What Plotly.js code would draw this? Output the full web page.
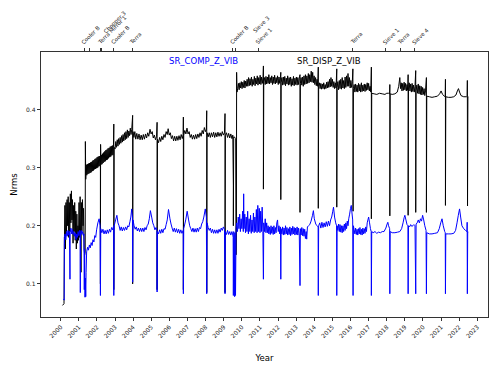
<!DOCTYPE html>
<html>
<head>
<meta charset="utf-8">
<script src="https://cdn.plot.ly/plotly-3.0.1.min.js"></script>
<style>html,body{margin:0;padding:0;background:#fff;}#chart{width:500px;height:375px;}</style>
</head>
<body>
<div id="chart"></div>
<script>
// Year tick labels
const yearTicks = [2000,2001,2002,2003,2004,2005,2006,2007,2008,2009,2010,2011,2012,2013,2014,2015,2016,2017,2018,2019,2020,2021,2022,2023];
const yTicks = [0.1, 0.2, 0.3, 0.4];

// Events shown on the top axis
const eventYears  = [2001.29, 2001.57, 2002.17, 2002.24, 2002.93, 2003.94, 2009.49, 2009.66, 2010.91, 2016.12, 2017.95, 2018.74, 2019.55];
const eventLabels = ["Cooler B", "Chopper 3", "Terra Mirror 1", "", "Cooler B", "Terra", "Cooler B", "Sieve 3", "Sieve 1", "Terra", "Sieve 1", "Terra", "Sieve 4"];

// SR_DISP_Z_VIB  [year, Nrms]
const dispPoints = [
[2000.10,0.063],[2000.18,0.066],[2000.20,0.17],[2000.23,0.235],[2000.26,0.16],[2000.29,0.24],[2000.32,0.19],[2000.35,0.245],[2000.38,0.2],[2000.41,0.25],[2000.44,0.18],[2000.47,0.24],[2000.50,0.19],[2000.53,0.255],[2000.56,0.205],[2000.59,0.26],[2000.62,0.21],[2000.65,0.245],[2000.68,0.17],[2000.71,0.235],[2000.74,0.19],[2000.77,0.24],[2000.80,0.175],[2000.83,0.225],[2000.86,0.16],[2000.89,0.22],[2000.92,0.17],[2000.95,0.2],[2000.98,0.175],[2001.01,0.24],[2001.04,0.18],[2001.07,0.25],[2001.10,0.17],[2001.12,0.12],[2001.14,0.24],[2001.17,0.19],[2001.20,0.245],[2001.23,0.2],[2001.26,0.23],[2001.29,0.16],[2001.32,0.15],[2001.35,0.155],
[2001.36,0.345],[2001.38,0.28],[2001.41,0.305],[2001.44,0.287],[2001.47,0.306],[2001.50,0.289],[2001.53,0.307],[2001.56,0.29],[2001.59,0.308],[2001.62,0.291],[2001.65,0.309],[2001.68,0.292],[2001.71,0.31],[2001.74,0.294],[2001.77,0.312],[2001.80,0.295],[2001.83,0.313],[2001.86,0.297],[2001.89,0.315],[2001.92,0.298],[2001.95,0.316],[2001.98,0.299],[2002.01,0.318],[2002.04,0.3],[2002.07,0.319],[2002.10,0.302],[2002.13,0.32],[2002.16,0.303],[2002.19,0.312],[2002.19,0.1],[2002.20,0.34],[2002.22,0.305],[2002.25,0.322],[2002.28,0.306],[2002.31,0.324],[2002.34,0.308],[2002.37,0.326],[2002.40,0.31],[2002.43,0.328],[2002.46,0.311],[2002.49,0.33],[2002.52,0.313],[2002.55,0.331],[2002.58,0.314],[2002.61,0.333],[2002.64,0.316],[2002.67,0.334],[2002.70,0.318],[2002.73,0.336],[2002.76,0.319],[2002.79,0.337],[2002.82,0.321],[2002.85,0.338],[2002.88,0.322],[2002.91,0.335],[2002.93,0.375],[2002.93,0.09],[2002.95,0.335],
[2003.00,0.332],[2003.04,0.345],[2003.08,0.335],[2003.12,0.348],[2003.16,0.337],[2003.20,0.35],[2003.24,0.34],[2003.28,0.352],[2003.32,0.342],[2003.36,0.355],[2003.40,0.344],[2003.44,0.357],[2003.48,0.346],[2003.52,0.36],[2003.56,0.348],[2003.60,0.362],[2003.64,0.35],[2003.68,0.365],[2003.72,0.352],[2003.76,0.363],[2003.80,0.355],[2003.84,0.368],[2003.88,0.357],[2003.92,0.366],[2003.97,0.39],[2003.97,0.1],[2003.99,0.362],
[2004.04,0.352],[2004.09,0.362],[2004.14,0.349],[2004.2,0.359],[2004.26,0.349],[2004.32,0.358],[2004.38,0.348],[2004.44,0.356],[2004.5,0.348],[2004.56,0.357],[2004.62,0.349],[2004.68,0.358],[2004.74,0.351],[2004.8,0.36],[2004.86,0.354],[2004.93,0.366],[2004.99,0.358],[2005.05,0.362],[2005.11,0.351],[2005.17,0.356],[2005.23,0.348],[2005.29,0.354],[2005.32,0.378],[2005.32,0.09],[2005.34,0.349],[2005.4,0.343],[2005.46,0.352],[2005.52,0.345],[2005.58,0.354],[2005.64,0.348],[2005.7,0.357],[2005.76,0.352],[2005.82,0.362],[2005.88,0.357],[2005.93,0.367],[2005.99,0.356],[2006.05,0.36],[2006.11,0.35],[2006.17,0.355],[2006.23,0.346],[2006.29,0.354],[2006.35,0.346],[2006.41,0.354],[2006.47,0.347],[2006.53,0.355],[2006.59,0.348],[2006.65,0.357],[2006.71,0.35],[2006.76,0.357],[2006.77,0.387],[2006.77,0.09],[2006.79,0.356],[2006.85,0.364],[2006.91,0.358],[2006.97,0.368],[2007.03,0.358],[2007.09,0.362],[2007.15,0.352],[2007.21,0.357],[2007.27,0.349],[2007.33,0.356],[2007.39,0.349],[2007.45,0.357],[2007.51,0.35],[2007.57,0.358],[2007.63,0.352],[2007.69,0.36],[2007.75,0.354],[2007.81,0.364],[2007.87,0.358],[2007.93,0.369],[2007.99,0.362],[2008.04,0.366],[2008.06,0.398],[2008.06,0.085],[2008.08,0.36],[2008.14,0.353],[2008.2,0.36],[2008.26,0.352],[2008.32,0.36],[2008.38,0.353],[2008.44,0.361],[2008.5,0.352],[2008.56,0.36],[2008.62,0.353],[2008.68,0.361],[2008.74,0.354],[2008.8,0.36],[2008.86,0.354],[2008.92,0.362],[2008.98,0.356],[2009.04,0.36],[2009.07,0.393],[2009.07,0.085],[2009.09,0.355],[2009.15,0.36],[2009.21,0.352],[2009.27,0.359],[2009.33,0.351],[2009.39,0.358],[2009.45,0.35],[2009.5,0.356],[2009.53,0.27],[2009.53,0.2],[2009.55,0.353],[2009.62,0.352],[2009.66,0.35],[2009.68,0.15],[2009.70,0.2],[2009.71,0.464],[2009.73,0.43],
[2009.77,0.436],[2009.81,0.445],[2009.85,0.434],[2009.89,0.446],[2009.93,0.437],[2009.97,0.448],[2010.01,0.436],[2010.05,0.447],[2010.09,0.438],[2010.13,0.45],[2010.17,0.437],[2010.21,0.449],[2010.25,0.44],[2010.29,0.452],
[2010.33,0.44],[2010.37,0.455],[2010.41,0.441],[2010.45,0.453],[2010.49,0.442],[2010.53,0.456],[2010.57,0.44],[2010.61,0.452],[2010.65,0.443],[2010.69,0.457],[2010.73,0.441],[2010.77,0.454],[2010.81,0.444],[2010.85,0.458],[2010.89,0.442],[2010.93,0.455],[2010.97,0.444],[2011.01,0.459],[2011.05,0.443],[2011.09,0.456],[2011.13,0.445],[2011.17,0.455],[2011.19,0.475],[2011.19,0.263],[2011.21,0.448],
[2011.25,0.455],[2011.29,0.443],[2011.33,0.457],[2011.37,0.444],[2011.41,0.456],[2011.45,0.445],[2011.49,0.46],[2011.53,0.444],[2011.57,0.455],[2011.61,0.446],[2011.65,0.458],[2011.69,0.443],[2011.73,0.456],[2011.77,0.445],[2011.81,0.459],[2011.85,0.444],[2011.89,0.455],[2011.93,0.446],[2011.97,0.458],[2012.01,0.443],[2012.05,0.456],[2012.09,0.445],[2012.13,0.455],[2012.15,0.464],[2012.15,0.245],[2012.17,0.446],
[2012.21,0.455],[2012.25,0.442],[2012.29,0.456],[2012.33,0.443],[2012.37,0.457],[2012.41,0.441],[2012.45,0.454],[2012.49,0.444],[2012.53,0.458],[2012.57,0.442],[2012.61,0.455],[2012.65,0.443],[2012.69,0.456],[2012.73,0.44],[2012.77,0.453],[2012.81,0.442],[2012.85,0.457],[2012.89,0.441],[2012.93,0.454],[2012.97,0.443],[2013.01,0.456],[2013.05,0.442],[2013.09,0.455],[2013.13,0.443],[2013.17,0.454],[2013.21,0.46],[2013.21,0.223],[2013.23,0.445],
[2013.27,0.455],[2013.31,0.442],[2013.35,0.456],[2013.39,0.44],[2013.43,0.458],[2013.47,0.443],[2013.51,0.46],[2013.55,0.444],[2013.59,0.458],[2013.63,0.445],[2013.67,0.462],[2013.71,0.446],[2013.75,0.46],[2013.79,0.448],[2013.83,0.466],[2013.87,0.447],[2013.91,0.464],[2013.95,0.446],[2013.99,0.458],[2014.03,0.443],[2014.07,0.455],[2014.11,0.441],[2014.15,0.452],[2014.19,0.44],[2014.22,0.473],[2014.22,0.23],[2014.24,0.44],
[2014.28,0.446],[2014.32,0.436],[2014.36,0.445],[2014.40,0.435],[2014.44,0.444],[2014.48,0.436],[2014.52,0.446],[2014.56,0.435],[2014.60,0.443],[2014.64,0.436],[2014.68,0.447],[2014.72,0.437],[2014.76,0.448],[2014.80,0.438],[2014.84,0.452],[2014.88,0.439],[2014.92,0.455],[2014.96,0.44],[2015.00,0.452],[2015.04,0.438],[2015.08,0.448],[2015.12,0.436],[2015.16,0.446],[2015.20,0.437],[2015.24,0.47],[2015.24,0.232],[2015.26,0.438],
[2015.30,0.448],[2015.34,0.434],[2015.38,0.45],[2015.42,0.436],[2015.46,0.452],[2015.50,0.435],[2015.54,0.455],[2015.58,0.437],[2015.62,0.45],[2015.66,0.436],[2015.70,0.456],[2015.74,0.438],[2015.78,0.458],[2015.82,0.44],[2015.86,0.462],[2015.90,0.44],[2015.94,0.455],[2015.98,0.437],[2016.02,0.45],[2016.06,0.438],[2016.10,0.448],[2016.13,0.47],[2016.14,0.225],[2016.16,0.436],
[2016.20,0.443],[2016.24,0.43],[2016.28,0.444],[2016.32,0.431],[2016.36,0.442],[2016.40,0.43],[2016.44,0.445],[2016.48,0.432],[2016.52,0.443],[2016.56,0.43],[2016.60,0.446],[2016.64,0.431],[2016.68,0.442],[2016.72,0.432],[2016.76,0.444],[2016.80,0.431],[2016.84,0.443],[2016.88,0.433],[2016.92,0.446],[2016.96,0.434],[2017.00,0.445],[2017.04,0.432],[2017.08,0.44],[2017.12,0.43],[2017.15,0.473],[2017.15,0.212],[2017.17,0.428],
[2017.3,0.427],[2017.45,0.426],[2017.6,0.428],[2017.75,0.427],[2017.9,0.426],[2018.0,0.428],[2018.1,0.428],[2018.16,0.427],[2018.17,0.443],[2018.17,0.217],[2018.19,0.427],
[2018.3,0.426],[2018.45,0.427],[2018.58,0.43],[2018.66,0.44],[2018.72,0.455],[2018.76,0.436],[2018.80,0.446],[2018.84,0.432],[2018.88,0.445],[2018.92,0.433],[2018.96,0.447],[2019.00,0.434],[2019.04,0.445],[2019.08,0.432],[2019.12,0.443],[2019.16,0.433],[2019.18,0.46],[2019.18,0.218],[2019.20,0.434],
[2019.24,0.446],[2019.28,0.432],[2019.32,0.444],[2019.36,0.43],[2019.40,0.445],[2019.44,0.431],[2019.48,0.442],[2019.52,0.43],[2019.56,0.44],[2019.60,0.467],[2019.60,0.223],[2019.62,0.432],
[2019.66,0.442],[2019.70,0.428],[2019.74,0.444],[2019.78,0.427],[2019.82,0.441],[2019.86,0.426],[2019.90,0.44],[2019.94,0.425],[2019.98,0.438],[2020.02,0.426],[2020.06,0.436],[2020.10,0.424],[2020.14,0.432],[2020.19,0.455],[2020.19,0.223],[2020.21,0.423],
[2020.35,0.422],[2020.5,0.421],[2020.65,0.422],[2020.8,0.423],[2020.92,0.427],[2021.0,0.432],[2021.08,0.426],[2021.18,0.423],[2021.23,0.422],[2021.24,0.452],[2021.24,0.235],[2021.26,0.422],
[2021.4,0.421],[2021.55,0.421],[2021.7,0.422],[2021.82,0.425],[2021.9,0.432],[2021.96,0.436],[2022.02,0.43],[2022.1,0.424],[2022.25,0.422],[2022.4,0.422],[2022.44,0.423],[2022.45,0.45],[2022.46,0.234],[2022.48,0.422],[2022.50,0.422]
];

// SR_COMP_Z_VIB  [year, Nrms]
const compPoints = [
[2000.15,0.074],[2000.19,0.072],[2000.20,0.18],[2000.24,0.186],[2000.28,0.176],[2000.32,0.19],[2000.36,0.182],[2000.40,0.192],[2000.44,0.184],[2000.48,0.19],[2000.51,0.108],[2000.52,0.188],[2000.56,0.196],[2000.60,0.186],[2000.64,0.194],[2000.68,0.185],[2000.72,0.19],[2000.76,0.182],[2000.80,0.188],[2000.84,0.176],[2000.88,0.186],[2000.92,0.18],[2000.96,0.19],[2001.00,0.183],[2001.04,0.192],[2001.07,0.186],[2001.08,0.085],[2001.09,0.188],[2001.13,0.192],[2001.17,0.185],[2001.21,0.19],[2001.25,0.183],[2001.28,0.186],[2001.30,0.09],[2001.32,0.16],[2001.34,0.077],[2001.36,0.11],[2001.38,0.078],[2001.40,0.12],
[2001.43,0.155],[2001.48,0.163],[2001.53,0.158],[2001.58,0.167],[2001.63,0.162],[2001.68,0.171],[2001.73,0.166],[2001.78,0.176],[2001.83,0.172],[2001.88,0.183],[2001.93,0.18],[2001.98,0.193],[2002.05,0.205],[2002.12,0.212],[2002.17,0.2],[2002.19,0.08],
[2002.21,0.195],[2002.27,0.188],[2002.33,0.194],[2002.39,0.186],[2002.45,0.192],[2002.51,0.186],[2002.57,0.193],[2002.63,0.187],[2002.69,0.194],[2002.75,0.189],[2002.81,0.197],[2002.87,0.193],[2002.92,0.2],[2002.93,0.08],[2002.95,0.2],[2003.03,0.21],[2003.1,0.218],[2003.16,0.205],[2003.22,0.2],[2003.28,0.192],[2003.34,0.198],[2003.4,0.191],[2003.46,0.197],[2003.52,0.192],[2003.58,0.198],[2003.64,0.193],[2003.7,0.2],[2003.76,0.198],[2003.82,0.207],[2003.87,0.215],[2003.92,0.229],[2003.96,0.215],[2003.97,0.103],[2003.99,0.21],
[2004.05,0.2],[2004.11,0.194],[2004.17,0.198],[2004.23,0.191],[2004.29,0.196],[2004.35,0.19],[2004.41,0.196],[2004.47,0.19],[2004.53,0.196],[2004.59,0.19],[2004.65,0.197],[2004.71,0.193],[2004.77,0.2],[2004.83,0.203],[2004.89,0.212],[2004.95,0.226],[2005.02,0.215],[2005.08,0.205],[2005.14,0.2],[2005.2,0.193],[2005.26,0.197],[2005.31,0.192],[2005.32,0.086],[2005.34,0.19],[2005.4,0.186],[2005.46,0.193],[2005.52,0.187],[2005.58,0.194],[2005.64,0.188],[2005.7,0.195],[2005.76,0.194],[2005.82,0.202],[2005.88,0.21],[2005.95,0.228],[2006.03,0.212],[2006.09,0.203],[2006.15,0.196],[2006.21,0.19],[2006.27,0.196],[2006.33,0.189],[2006.39,0.195],[2006.45,0.188],[2006.51,0.194],[2006.57,0.187],[2006.63,0.193],[2006.69,0.187],[2006.76,0.192],[2006.77,0.083],[2006.79,0.195],[2006.85,0.203],[2006.9,0.21],[2006.98,0.225],[2007.06,0.21],[2007.12,0.2],[2007.18,0.195],[2007.24,0.19],[2007.3,0.196],[2007.36,0.189],[2007.42,0.195],[2007.48,0.189],[2007.54,0.196],[2007.6,0.19],[2007.66,0.197],[2007.72,0.195],[2007.78,0.203],[2007.84,0.207],[2007.9,0.215],[2007.98,0.229],[2008.04,0.215],[2008.06,0.083],[2008.08,0.205],[2008.14,0.197],[2008.2,0.192],[2008.26,0.196],[2008.32,0.188],[2008.38,0.194],[2008.44,0.187],[2008.5,0.193],[2008.56,0.187],[2008.62,0.193],[2008.68,0.187],[2008.74,0.194],[2008.8,0.189],[2008.86,0.196],[2008.92,0.192],[2008.98,0.198],[2009.04,0.194],[2009.07,0.083],[2009.09,0.19],[2009.15,0.185],[2009.21,0.192],[2009.27,0.185],[2009.33,0.19],[2009.39,0.184],[2009.45,0.19],[2009.5,0.184],[2009.52,0.18],[2009.53,0.08],[2009.55,0.19],[2009.58,0.185],[2009.60,0.078],[2009.62,0.188],[2009.65,0.08],[2009.68,0.195],
[2009.72,0.205],[2009.76,0.19],[2009.80,0.215],[2009.84,0.195],[2009.88,0.22],[2009.92,0.19],[2009.96,0.212],[2010.00,0.195],[2010.04,0.225],[2010.08,0.19],[2010.10,0.255],[2010.12,0.195],[2010.16,0.22],[2010.20,0.188],[2010.24,0.215],[2010.28,0.19],[2010.32,0.225],[2010.36,0.186],[2010.40,0.212],[2010.44,0.19],[2010.48,0.218],[2010.52,0.187],[2010.56,0.21],[2010.60,0.19],[2010.64,0.222],[2010.68,0.188],[2010.72,0.215],[2010.76,0.19],[2010.80,0.228],[2010.84,0.188],[2010.88,0.235],[2010.92,0.19],[2010.96,0.23],[2011.00,0.188],[2011.04,0.225],[2011.08,0.19],[2011.12,0.232],[2011.16,0.19],[2011.19,0.108],[2011.21,0.205],[2011.25,0.19],[2011.29,0.212],[2011.33,0.188],[2011.37,0.205],
[2011.41,0.188],[2011.45,0.2],[2011.49,0.186],[2011.53,0.198],[2011.57,0.185],[2011.61,0.2],[2011.65,0.187],[2011.69,0.198],[2011.73,0.185],[2011.77,0.2],[2011.81,0.186],[2011.85,0.197],[2011.89,0.188],[2011.93,0.205],[2011.97,0.21],[2012.01,0.19],[2012.05,0.2],[2012.09,0.186],[2012.13,0.198],[2012.15,0.108],[2012.17,0.195],[2012.21,0.186],[2012.25,0.198],[2012.29,0.184],[2012.33,0.196],[2012.37,0.185],[2012.41,0.2],[2012.45,0.186],[2012.49,0.197],[2012.53,0.184],[2012.57,0.195],[2012.61,0.185],[2012.65,0.198],[2012.69,0.183],[2012.73,0.196],[2012.77,0.185],[2012.81,0.199],[2012.85,0.186],[2012.89,0.197],[2012.93,0.184],[2012.97,0.196],[2013.01,0.185],[2013.05,0.198],[2013.09,0.184],[2013.13,0.196],[2013.17,0.186],[2013.21,0.097],[2013.23,0.195],[2013.27,0.184],[2013.31,0.197],[2013.35,0.183],[2013.39,0.195],[2013.43,0.182],[2013.47,0.194],[2013.51,0.178],[2013.55,0.19],[2013.58,0.177],
[2013.62,0.198],[2013.68,0.2],[2013.75,0.202],[2013.82,0.208],[2013.9,0.218],[2013.95,0.226],[2014.0,0.212],[2014.08,0.203],[2014.15,0.2],[2014.21,0.198],[2014.22,0.08],[2014.24,0.2],
[2014.3,0.205],[2014.36,0.196],[2014.42,0.206],[2014.48,0.197],[2014.54,0.205],[2014.6,0.198],[2014.66,0.207],[2014.72,0.199],[2014.78,0.208],[2014.84,0.2],[2014.9,0.21],[2014.96,0.215],[2015.02,0.225],[2015.06,0.232],[2015.12,0.215],[2015.18,0.205],[2015.23,0.2],[2015.24,0.08],[2015.26,0.2],
[2015.3,0.192],[2015.34,0.203],[2015.38,0.19],[2015.42,0.202],[2015.46,0.189],[2015.5,0.2],[2015.54,0.188],[2015.58,0.2],[2015.62,0.19],[2015.66,0.203],[2015.7,0.192],[2015.74,0.205],[2015.78,0.195],[2015.82,0.208],[2015.86,0.2],[2015.9,0.212],[2015.95,0.22],[2016.0,0.23],[2016.04,0.235],[2016.08,0.222],[2016.12,0.21],[2016.14,0.08],[2016.16,0.2],
[2016.2,0.193],[2016.24,0.186],[2016.28,0.196],[2016.32,0.185],[2016.36,0.194],[2016.4,0.184],[2016.44,0.195],[2016.48,0.186],[2016.52,0.197],[2016.56,0.185],[2016.6,0.194],[2016.64,0.184],[2016.68,0.196],[2016.72,0.186],[2016.76,0.195],[2016.8,0.187],[2016.84,0.198],[2016.88,0.19],[2016.92,0.205],[2016.96,0.21],[2017.0,0.215],[2017.05,0.205],[2017.1,0.195],[2017.14,0.19],[2017.15,0.08],[2017.17,0.19],
[2017.25,0.188],[2017.35,0.19],[2017.45,0.187],[2017.55,0.189],[2017.65,0.188],[2017.75,0.19],[2017.85,0.19],[2017.95,0.196],[2018.02,0.203],[2018.06,0.206],[2018.1,0.2],[2018.16,0.195],[2018.17,0.083],[2018.19,0.19],
[2018.3,0.188],[2018.45,0.188],[2018.6,0.189],[2018.72,0.19],[2018.82,0.195],[2018.9,0.205],[2018.96,0.214],[2019.0,0.218],[2019.06,0.21],[2019.12,0.202],[2019.17,0.2],[2019.18,0.083],[2019.2,0.2],
[2019.26,0.198],[2019.32,0.202],[2019.38,0.199],[2019.44,0.2],[2019.5,0.202],[2019.56,0.2],[2019.6,0.083],[2019.62,0.203],
[2019.68,0.205],[2019.74,0.21],[2019.8,0.205],[2019.86,0.212],[2019.92,0.208],[2019.98,0.218],[2020.04,0.21],[2020.1,0.2],[2020.17,0.192],[2020.19,0.083],[2020.21,0.188],
[2020.35,0.186],[2020.5,0.186],[2020.65,0.187],[2020.8,0.188],[2020.9,0.195],[2020.98,0.205],[2021.05,0.212],[2021.12,0.2],[2021.2,0.19],[2021.23,0.188],[2021.24,0.083],[2021.26,0.186],
[2021.4,0.186],[2021.55,0.186],[2021.7,0.187],[2021.8,0.192],[2021.88,0.205],[2021.95,0.218],[2022.02,0.229],[2022.08,0.215],[2022.15,0.2],[2022.25,0.195],[2022.35,0.192],[2022.43,0.19],[2022.44,0.206],[2022.45,0.083],[2022.47,0.19],[2022.49,0.189]
];

const FONT = "DejaVu Sans, Liberation Sans, sans-serif";
const xRange = [1998.91, 2023.59];

const traces = [
  {x: dispPoints.map(p => p[0]), y: dispPoints.map(p => p[1]), type: 'scatter', mode: 'lines',
   line: {color: '#000000', width: 1, simplify: false}, name: 'SR_DISP_Z_VIB', hoverinfo: 'skip'},
  {x: compPoints.map(p => p[0]), y: compPoints.map(p => p[1]), type: 'scatter', mode: 'lines',
   line: {color: '#0000ff', width: 1, simplify: false}, name: 'SR_COMP_Z_VIB', hoverinfo: 'skip'},
  {x: eventYears, y: eventYears.map(() => null), xaxis: 'x2', type: 'scatter', mode: 'markers',
   showlegend: false, hoverinfo: 'skip'}
];

// per-label offsets to mimic how the reference places crowded labels
const labelShift = {1: [17, 10], 7: [20, 12]};

const annotations = [];
eventYears.forEach((yr, i) => {
  if (!eventLabels[i]) return;
  const sh = labelShift[i] || [0, 0];
  annotations.push({
    x: yr, xref: 'x', y: 1.019, yref: 'paper', text: eventLabels[i],
    showarrow: false, textangle: -45, xanchor: 'left', yanchor: 'bottom',
    xshift: sh[0] - 5, yshift: sh[1], borderpad: 0,
    font: {family: FONT, size: 5.5, color: '#222'}
  });
});
annotations.push({x: 0.2826, xref: 'paper', y: 0.967, yref: 'paper', text: 'SR_COMP_Z_VIB',
  showarrow: false, xanchor: 'left', yanchor: 'middle', font: {family: FONT, size: 8.5, color: '#0000ff'}});
annotations.push({x: 0.568, xref: 'paper', y: 0.967, yref: 'paper', text: 'SR_DISP_Z_VIB',
  showarrow: false, xanchor: 'left', yanchor: 'middle', font: {family: FONT, size: 8.5, color: '#000000'}});

const layout = {
  width: 500, height: 375,
  margin: {l: 41, r: 12, t: 52, b: 58, pad: 0},
  paper_bgcolor: '#ffffff', plot_bgcolor: '#ffffff',
  showlegend: false,
  font: {family: FONT, color: '#222'},
  xaxis: {
    range: xRange, tickvals: yearTicks, ticktext: yearTicks.map(String), tickangle: -45,
    tickfont: {family: FONT, size: 6, color: '#222'},
    ticks: 'outside', ticklen: 3.5, tickwidth: 0.8, tickcolor: '#000',
    showline: true, linecolor: '#000', linewidth: 0.8, mirror: true,
    showgrid: false, zeroline: false,
    title: {text: 'Year', font: {family: FONT, size: 8.5, color: '#000'}, standoff: 16}
  },
  xaxis2: {
    overlaying: 'x', side: 'top', anchor: 'y', range: xRange,
    tickvals: eventYears, ticktext: eventYears.map(() => ''),
    ticks: 'outside', ticklen: 3, tickwidth: 0.8, tickcolor: '#000',
    showline: false, showgrid: false, zeroline: false, showticklabels: true
  },
  yaxis: {
    range: [0.043, 0.499], tickvals: yTicks, ticktext: yTicks.map(v => v.toFixed(1)),
    tickfont: {family: FONT, size: 6, color: '#222'},
    ticks: 'outside', ticklen: 3.5, tickwidth: 0.8, tickcolor: '#000',
    showline: true, linecolor: '#000', linewidth: 0.8, mirror: true,
    showgrid: false, zeroline: false,
    title: {text: 'Nrms', font: {family: FONT, size: 8.5, color: '#000'}, standoff: 6}
  },
  annotations: annotations
};

Plotly.newPlot('chart', traces, layout, {staticPlot: true, displayModeBar: false});
</script>
</body>
</html>
